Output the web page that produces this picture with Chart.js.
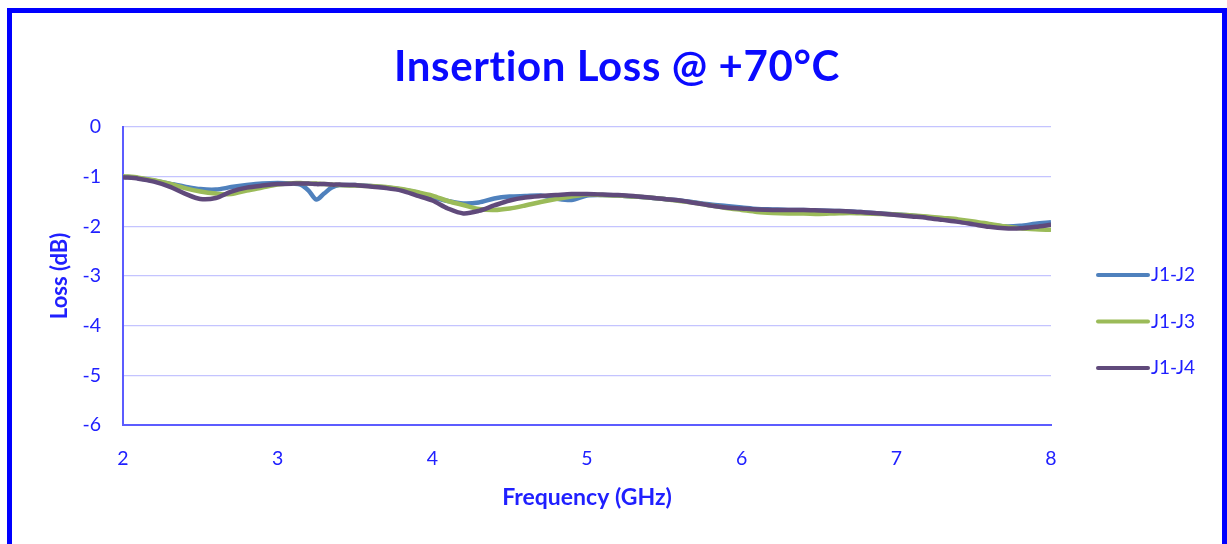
<!DOCTYPE html>
<html>
<head>
<meta charset="utf-8">
<script src="https://cdn.jsdelivr.net/npm/chart.js@4/dist/chart.umd.min.js"></script>
<style>
  html, body { margin: 0; padding: 0; background: #fff; }
  #frame { position: absolute; left: 7px; top: 8px; width: 1210px; height: 600px; border: 5px solid #0000ff; }
  #wrap { position: absolute; left: 0; top: 0; width: 1227px; height: 544px; }
</style>
</head>
<body>
<div id="frame"></div>
<div id="wrap"><canvas id="chart"></canvas></div>
<script>
// Frequency points (GHz)
const freqs = [2.0, 2.1, 2.2, 2.3, 2.4, 2.5, 2.6, 2.7, 2.8, 2.9, 3.0, 3.1, 3.15, 3.2, 3.25, 3.3, 3.35,
    3.4, 3.5, 3.6, 3.7, 3.8, 3.9, 4.0, 4.1, 4.2, 4.3, 4.4, 4.5, 4.6, 4.7, 4.8, 4.9, 5.0,
    5.1, 5.2, 5.3, 5.4, 5.5, 5.6, 5.7, 5.8, 5.9, 6.0, 6.1, 6.2, 6.3, 6.4, 6.5, 6.6, 6.7,
    6.8, 6.9, 7.0, 7.1, 7.2, 7.3, 7.4, 7.5, 7.6, 7.7, 7.8, 7.9, 8.0];

// Loss (dB) per path
const lossJ1J2 = [-1.00, -1.03, -1.08, -1.14, -1.20, -1.25, -1.26, -1.21, -1.17, -1.14, -1.13, -1.14, -1.16, -1.28, -1.46, -1.34, -1.22,
    -1.17, -1.17, -1.19, -1.22, -1.26, -1.32, -1.41, -1.49, -1.54, -1.52, -1.44, -1.40, -1.39, -1.38, -1.44, -1.47, -1.38,
    -1.37, -1.38, -1.40, -1.42, -1.45, -1.48, -1.52, -1.56, -1.59, -1.62, -1.65, -1.66, -1.67, -1.67, -1.68, -1.69, -1.70,
    -1.72, -1.74, -1.76, -1.78, -1.82, -1.85, -1.89, -1.93, -1.97, -2.00, -1.99, -1.95, -1.92];
const lossJ1J3 = [-0.99, -1.02, -1.07, -1.14, -1.23, -1.30, -1.34, -1.35, -1.28, -1.22, -1.16, -1.13, -1.13, -1.14, -1.14, -1.15, -1.16,
    -1.17, -1.18, -1.19, -1.21, -1.25, -1.31, -1.38, -1.49, -1.57, -1.65, -1.67, -1.64, -1.58, -1.51, -1.45, -1.40, -1.36,
    -1.37, -1.38, -1.40, -1.42, -1.45, -1.49, -1.53, -1.58, -1.63, -1.67, -1.71, -1.73, -1.74, -1.74, -1.75, -1.74, -1.73,
    -1.74, -1.75, -1.76, -1.78, -1.80, -1.83, -1.86, -1.90, -1.95, -2.00, -2.04, -2.06, -2.07];
const lossJ1J4 = [-1.01, -1.04, -1.10, -1.20, -1.34, -1.45, -1.43, -1.30, -1.22, -1.18, -1.15, -1.14, -1.14, -1.14, -1.15, -1.15, -1.16,
    -1.16, -1.17, -1.20, -1.23, -1.28, -1.38, -1.48, -1.64, -1.74, -1.69, -1.58, -1.48, -1.42, -1.39, -1.37, -1.35, -1.35,
    -1.36, -1.37, -1.39, -1.42, -1.45, -1.48, -1.53, -1.58, -1.62, -1.64, -1.66, -1.67, -1.67, -1.67, -1.68, -1.69, -1.70,
    -1.72, -1.74, -1.77, -1.80, -1.83, -1.87, -1.91, -1.96, -2.01, -2.04, -2.04, -2.01, -1.97];

const seriesNames = ["J1-J2", "J1-J3", "J1-J4"];
const seriesColors = ["#4f81bd", "#9bbb59", "#604a7b"];
const chartTitle = "Insertion Loss @ +70\u00B0C";

const FONT = "Lato, 'Open Sans', sans-serif";
const TEXT_BLUE = "#2020ff";

let points = (ys) => freqs.map((f, i) => ({ x: f, y: ys[i] }));

// Title and right-hand legend, placed like the spreadsheet chart
const decorations = {
    id: "decorations",
    afterDraw(chart) {
        const ctx = chart.ctx;
        ctx.save();
        ctx.fillStyle = "#0a0aff";
        ctx.font = "bold 42px " + FONT;
        ctx.letterSpacing = "0.6px"; // also keeps "ti" from joining into a ligature
        ctx.textAlign = "center";
        ctx.textBaseline = "middle";
        ctx.fillText(chartTitle, 617, 67);
        ctx.letterSpacing = "0px";

        chart.data.datasets.forEach((ds, i) => {
            let y = 275 + i * 46.5;
            ctx.strokeStyle = ds.borderColor;
            ctx.lineWidth = 4;
            ctx.lineCap = "round";
            ctx.beginPath();
            ctx.moveTo(1098, y);
            ctx.lineTo(1148, y);
            ctx.stroke();
            ctx.fillStyle = TEXT_BLUE;
            ctx.font = "19px " + FONT;
            ctx.textAlign = "left";
            ctx.fillText(ds.label, 1151, y);
        });
        ctx.restore();
    }
};

const datasets = [lossJ1J2, lossJ1J3, lossJ1J4].map((ys, i) => ({
    label: seriesNames[i],
    data: points(ys),
    borderColor: seriesColors[i],
    backgroundColor: seriesColors[i],
    borderWidth: 4.5,
    pointRadius: 0,
    tension: 0.3,
    order: 3 - i // J1-J4 drawn on top
}));

new Chart(document.getElementById("chart"), {
    type: "line",
    data: { datasets: datasets },
    plugins: [decorations],
    options: {
        responsive: true,
        maintainAspectRatio: false,
        animation: false,
        layout: { padding: { top: 127, left: 12, right: 176, bottom: 0 } },
        plugins: {
            legend: { display: false },
            title: { display: false },
            tooltip: { enabled: false }
        },
        scales: {
            x: {
                type: "linear",
                min: 2,
                max: 8,
                ticks: { stepSize: 1, color: TEXT_BLUE, font: { family: FONT, size: 19.5 }, padding: 22 },
                grid: { display: false, drawTicks: false },
                border: { display: true, color: "#5c5cff", width: 2 },
                title: {
                    display: true,
                    text: "Frequency (GHz)",
                    color: TEXT_BLUE,
                    font: { family: FONT, size: 23, weight: "bold" },
                    padding: { top: 0, bottom: 33 }
                },
                afterFit: (scale) => { scale.height = 119; }
            },
            y: {
                min: -6,
                max: 0,
                ticks: { stepSize: 1, color: TEXT_BLUE, font: { family: FONT, size: 19.5 }, padding: 22 },
                grid: { color: "#c4c4ff", lineWidth: 1.2, drawTicks: false },
                border: { display: true, color: "#5c5cff", width: 2 },
                title: {
                    display: true,
                    text: "Loss (dB)",
                    color: TEXT_BLUE,
                    font: { family: FONT, size: 22, weight: "bold" },
                    padding: { top: 35, bottom: 0 }
                },
                afterFit: (scale) => { scale.width = 111; }
            }
        }
    }
});
</script>
</body>
</html>
